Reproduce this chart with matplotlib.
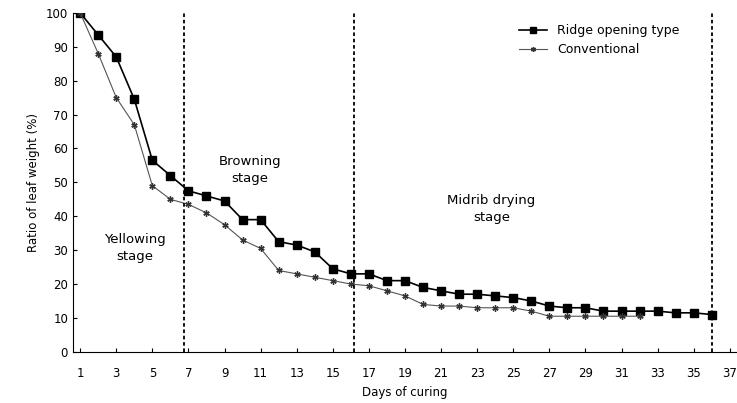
import numpy as np
import matplotlib.pyplot as plt

# Ratio of leaf weight (%) by day of curing
days_ridge = np.arange(1, 37)
ridge = [100, 93.5, 87, 74.5, 56.5, 52, 47.5, 46, 44.5, 39, 39, 32.5, 31.5, 29.5, 24.5, 23,
         23, 21, 21, 19, 18, 17, 17, 16.5, 16, 15, 13.5, 13, 13, 12, 12, 12, 12, 11.5, 11.5, 11]
days_conv = np.arange(1, 33)
conventional = [100, 88, 75, 67, 49, 45, 43.5, 41, 37.5, 33, 30.5, 24, 23, 22, 21, 20,
                19.5, 18, 16.5, 14, 13.5, 13.5, 13, 13, 13, 12, 10.5, 10.5, 10.5, 10.5, 10.5, 10.5]

stage_bounds = [6.75, 16.2, 36]
stage_labels = ["Yellowing\nstage", "Browning\nstage", "Midrib drying\nstage"]
stage_pos = [(4.05, 30.7), (10.4, 53.7), (23.8, 42)]

fig = plt.figure(figsize=(7.37, 4.03), dpi=100)
ax = fig.add_axes([0.099, 0.127, 0.901, 0.841])

ax.plot(days_ridge, ridge, color="black", lw=1.2, marker="s", ms=5.5,
        label="Ridge opening type")
ax.plot(days_conv, conventional, color="#555555", lw=0.8, marker=(6, 2, 0), ms=4.5,
        mec="#333333", label="Conventional")

for b in stage_bounds:
    ax.axvline(b, color="black", ls=(0, (2, 1.5)), lw=1.3)

for lab, (x, y) in zip(stage_labels, stage_pos):
    ax.text(x, y, lab, ha="center", va="center", fontsize=9.5, linespacing=1.4)

ax.set_xlim(0.6, 37.4)
ax.set_ylim(0, 100)
ax.set_xticks(np.arange(1, 38, 2))
ax.set_yticks(np.arange(0, 101, 10))
ax.tick_params(direction="in", labelsize=8.5, length=3)
ax.tick_params(axis="x", pad=11)
for s in ["top", "right"]:
    ax.spines[s].set_visible(False)

ax.set_xlabel("Days of curing", fontsize=8.5)
ax.set_ylabel("Ratio of leaf weight (%)", fontsize=8.5)

ax.legend(loc="upper right", bbox_to_anchor=(0.93, 1.0), frameon=False, fontsize=9,
          handlelength=2.2, markerscale=0.8)

fig.savefig("out.png", dpi=100)
